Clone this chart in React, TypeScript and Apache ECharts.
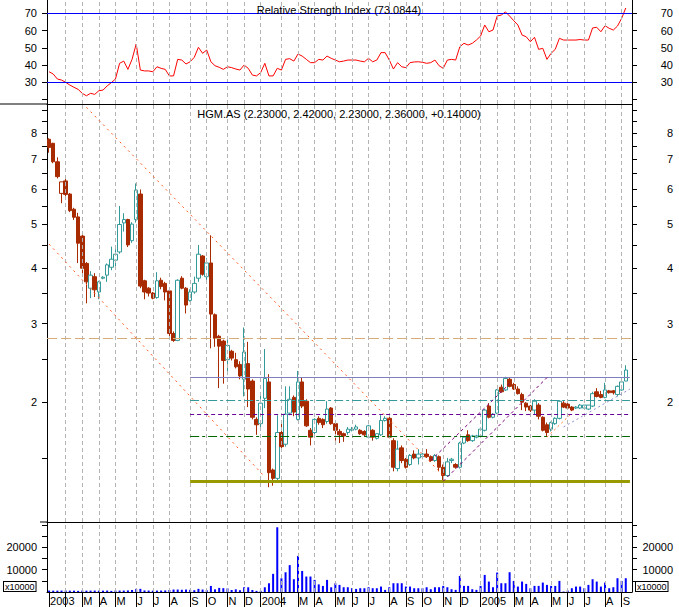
import React, { useEffect, useRef } from 'react';
import * as echarts from 'echarts';

// ---- categories (weekly bars, Friday dates) ----
const START_DATE = Date.UTC(2003, 0, 10);
const weeks: string[] = [];
for (let i = 0; i < 141; i++) {
  weeks.push(new Date(START_DATE + i * 7 * 86400000).toISOString().slice(0, 10));
}

// first bar of each month and its label ('' = tick only)
const monthIdx = [0, 4, 8, 12, 16, 21, 25, 29, 34, 38, 43, 47, 51, 56, 60, 64, 69, 73, 77, 82, 86, 90, 95, 99, 104, 108, 112, 116, 121, 125, 129, 134, 138];
const monthLab = ['2003', '', 'M', 'A', 'M', 'J', 'J', 'A', 'S', 'O', 'N', 'D', '2004', '', 'M', 'A', 'M', 'J', 'J', 'A', 'S', 'O', 'N', 'D', '2005', '', 'M', 'A', 'M', 'J', 'J', 'A', 'S'];

// ---- OHLC ----
const open = [7.76, 7.60, 6.91, 5.87, 6.26, 5.85, 5.41, 5.20, 4.71, 4.09, 3.60, 3.82, 3.53, 3.79, 3.85, 4.01, 4.16, 4.34, 5.04, 5.13, 4.60, 5.13, 5.85, 3.74, 3.60, 3.51, 3.43, 3.75, 3.69, 3.55, 2.85, 2.75, 3.79, 3.60, 3.38, 3.53, 3.79, 4.25, 3.82, 4.10, 3.14, 2.81, 2.74, 2.49, 2.60, 2.49, 2.43, 2.25, 2.44, 2.23, 1.83, 1.79, 2.04, 2.22, 1.41, 1.35, 1.71, 1.61, 1.89, 2.05, 1.83, 2.22, 2.01, 1.73, 1.71, 1.84, 1.83, 1.81, 1.94, 1.79, 1.72, 1.70, 1.71, 1.73, 1.74, 1.73, 1.72, 1.67, 1.73, 1.66, 1.69, 1.82, 1.84, 1.64, 1.42, 1.58, 1.49, 1.45, 1.53, 1.50, 1.51, 1.53, 1.51, 1.48, 1.51, 1.43, 1.37, 1.48, 1.45, 1.43, 1.62, 1.69, 1.64, 1.67, 1.68, 1.73, 1.96, 1.85, 1.89, 2.16, 2.13, 2.25, 2.19, 2.14, 2.08, 1.99, 1.96, 1.92, 1.97, 1.85, 1.78, 1.74, 1.79, 1.84, 1.99, 1.98, 1.95, 1.94, 1.94, 1.94, 1.93, 1.96, 2.11, 2.08, 2.05, 2.12, 2.12, 2.08, 2.13, 2.23];
const high = [7.80, 7.62, 7.07, 6.23, 6.38, 5.88, 5.45, 5.31, 4.75, 4.12, 3.93, 3.89, 3.74, 3.83, 4.09, 4.46, 4.40, 5.50, 5.30, 5.15, 5.06, 6.18, 5.99, 3.76, 3.62, 3.53, 3.91, 3.80, 3.72, 3.57, 2.88, 3.77, 3.83, 3.62, 3.58, 3.82, 4.50, 4.27, 4.20, 4.73, 3.16, 2.83, 2.76, 2.78, 2.62, 2.58, 2.47, 2.94, 2.73, 2.25, 1.85, 2.09, 2.63, 2.31, 1.42, 1.87, 1.79, 2.17, 2.17, 2.07, 2.35, 2.27, 2.03, 1.75, 1.84, 1.86, 1.84, 2.01, 1.95, 1.80, 1.74, 1.71, 1.76, 1.76, 1.78, 1.74, 1.73, 1.78, 1.74, 1.70, 1.87, 1.86, 1.86, 1.66, 1.64, 1.60, 1.50, 1.53, 1.56, 1.57, 1.54, 1.57, 1.52, 1.53, 1.52, 1.45, 1.50, 1.50, 1.46, 1.63, 1.68, 1.73, 1.69, 1.69, 1.75, 1.93, 1.99, 1.89, 2.14, 2.19, 2.28, 2.27, 2.21, 2.17, 2.10, 2.00, 1.97, 2.03, 1.99, 1.86, 1.80, 1.81, 1.85, 2.02, 2.01, 2.00, 1.96, 1.96, 1.98, 1.97, 1.97, 2.11, 2.15, 2.12, 2.21, 2.13, 2.13, 2.18, 2.23, 2.42];
const low = [7.24, 6.86, 6.34, 5.58, 5.79, 5.33, 5.12, 4.10, 3.85, 3.33, 3.42, 3.44, 3.40, 3.77, 3.72, 3.95, 4.03, 4.30, 4.82, 4.45, 4.55, 5.05, 3.60, 3.40, 3.45, 3.40, 3.41, 3.58, 3.38, 2.80, 2.73, 2.74, 3.58, 3.16, 3.36, 3.50, 3.72, 3.84, 3.69, 2.64, 2.66, 2.15, 2.20, 2.30, 2.48, 2.38, 2.25, 2.06, 1.95, 1.83, 1.69, 1.75, 1.94, 1.29, 1.30, 1.33, 1.55, 1.59, 1.87, 1.86, 1.82, 1.94, 1.76, 1.60, 1.69, 1.78, 1.75, 1.79, 1.78, 1.64, 1.62, 1.63, 1.69, 1.72, 1.73, 1.69, 1.68, 1.66, 1.64, 1.65, 1.68, 1.81, 1.66, 1.40, 1.40, 1.46, 1.42, 1.44, 1.49, 1.45, 1.49, 1.50, 1.47, 1.47, 1.40, 1.33, 1.36, 1.46, 1.42, 1.42, 1.61, 1.63, 1.63, 1.66, 1.67, 1.72, 1.84, 1.84, 1.88, 2.10, 2.12, 2.16, 2.13, 2.08, 1.92, 1.91, 1.90, 1.88, 1.83, 1.72, 1.68, 1.72, 1.78, 1.83, 1.94, 1.93, 1.91, 1.93, 1.93, 1.93, 1.92, 1.95, 2.05, 2.04, 2.04, 2.09, 2.08, 2.06, 2.12, 2.23];
const close = [7.44, 6.91, 6.40, 6.23, 5.84, 5.37, 5.19, 4.54, 3.99, 3.72, 3.85, 3.57, 3.72, 3.81, 4.06, 4.18, 4.29, 5.00, 5.13, 4.50, 5.01, 5.97, 3.64, 3.53, 3.51, 3.42, 3.74, 3.63, 3.53, 2.85, 2.75, 3.75, 3.60, 3.30, 3.53, 3.69, 4.29, 3.87, 4.10, 3.15, 2.78, 2.67, 2.48, 2.68, 2.51, 2.40, 2.29, 2.59, 2.14, 1.85, 1.78, 1.99, 2.26, 1.39, 1.35, 1.71, 1.59, 1.88, 2.03, 1.90, 2.22, 1.96, 1.77, 1.67, 1.83, 1.80, 1.78, 1.93, 1.79, 1.73, 1.69, 1.68, 1.74, 1.74, 1.76, 1.70, 1.69, 1.77, 1.67, 1.70, 1.82, 1.84, 1.67, 1.43, 1.57, 1.48, 1.43, 1.52, 1.50, 1.53, 1.53, 1.51, 1.48, 1.52, 1.43, 1.37, 1.47, 1.49, 1.43, 1.62, 1.67, 1.64, 1.68, 1.68, 1.74, 1.92, 1.85, 1.88, 2.13, 2.11, 2.26, 2.17, 2.14, 2.09, 2.00, 1.95, 1.92, 2.01, 1.86, 1.73, 1.71, 1.80, 1.84, 2.01, 1.95, 1.94, 1.92, 1.95, 1.97, 1.97, 1.97, 2.09, 2.06, 2.05, 2.13, 2.10, 2.10, 2.17, 2.22, 2.36];
const hollowDown = [3]; // up week that closed below previous close

// ---- RSI ----
const rsi = [36.1, 34.8, 31.9, 31.3, 30.0, 28.4, 27.1, 25.9, 23.6, 22.2, 23.6, 23.0, 25.1, 25.5, 27.9, 29.8, 31.9, 41.0, 42.3, 37.5, 43.3, 52.2, 37.1, 36.6, 36.6, 36.1, 39.0, 38.1, 37.5, 33.7, 33.7, 43.3, 42.9, 40.6, 41.9, 44.5, 50.3, 46.8, 48.7, 41.9, 39.6, 38.7, 37.5, 39.0, 38.5, 37.7, 37.1, 40.0, 38.1, 34.2, 33.7, 35.6, 41.0, 33.7, 33.7, 38.1, 37.1, 43.3, 43.7, 42.3, 46.4, 45.2, 43.3, 41.4, 41.4, 43.3, 42.9, 45.2, 43.9, 42.9, 41.9, 42.3, 42.9, 42.9, 42.9, 42.3, 41.9, 43.9, 41.9, 42.9, 47.2, 47.2, 42.9, 37.7, 41.4, 39.0, 38.5, 41.4, 41.8, 41.9, 41.6, 41.0, 41.4, 42.9, 39.6, 38.1, 42.9, 43.3, 42.9, 50.6, 52.6, 51.6, 52.6, 54.5, 56.8, 63.2, 59.3, 60.3, 68.4, 69.0, 70.8, 68.4, 65.7, 63.2, 57.4, 56.4, 53.5, 56.1, 49.1, 49.7, 43.3, 46.8, 49.1, 55.5, 54.5, 54.5, 54.5, 54.5, 54.8, 54.5, 54.5, 61.5, 61.9, 59.3, 62.8, 61.3, 60.3, 62.6, 67.1, 73.08];

// ---- Volume (x10000) ----
const volume = [640, 600, 600, 640, 640, 600, 600, 500, 640, 600, 600, 640, 600, 600, 640, 500, 640, 640, 640, 700, 900, 1400, 1400, 700, 640, 600, 640, 640, 700, 900, 1100, 1100, 1000, 1100, 1000, 800, 1400, 1100, 800, 2700, 1200, 1830, 1700, 1600, 900, 1200, 800, 2100, 2100, 900, 500, 500, 2100, 3900, 8100, 28900, 6100, 8800, 12000, 5700, 16100, 9400, 6900, 6900, 5400, 3400, 2700, 5400, 2100, 3900, 3170, 2128, 2128, 1683, 1384, 1683, 1683, 2128, 1683, 1683, 2425, 937, 2128, 3914, 3914, 3914, 2425, 2425, 1683, 1683, 1683, 2128, 1236, 2128, 2128, 2723, 2128, 1236, 937, 7187, 2723, 2723, 1236, 937, 2723, 7633, 4657, 2128, 8675, 3914, 3914, 8824, 4955, 2425, 4657, 3616, 1683, 2723, 2723, 4210, 3170, 2723, 2723, 4955, 192, 640, 1683, 2425, 2425, 1683, 3170, 5700, 4657, 2425, 4210, 1683, 2128, 6146, 4955, 6146];

// ---- reference lines (price levels); from = first bar index, -1 = whole width ----
const levels = [
  { v: 2.78, color: '#D8AC78', type: [10, 4], width: 1, from: -1 },
  { v: 2.27, color: '#7F7FC0', type: 'solid', width: 1, from: 34 },
  { v: 2.02, color: '#339999', type: [9, 3, 3, 3], width: 1, from: 34 },
  { v: 1.878, color: '#660099', type: [4, 3], width: 1, from: 34 },
  { v: 1.68, color: '#006600', type: [9, 3, 3, 3], width: 1, from: 34 },
  { v: 1.333, color: '#999900', type: 'solid', width: 3, from: 34 },
];
// trend lines: [startIdx, startPrice, endIdx, endPrice]
const trends = [
  { p: [9, 9.15, 95, 1.37], color: '#FF5A1E', type: [2, 4] },
  { p: [0, 4.52, 52, 1.36], color: '#FF5A1E', type: [2, 4] },
  { p: [95, 1.33, 120, 2.27], color: '#800080', type: [3, 3] },
  { p: [92, 1.48, 111, 2.20], color: '#800080', type: [3, 3] },
  { p: [120, 1.67, 126, 1.89], color: '#FF7A30', type: [2, 3] },
  { p: [124, 1.76, 140, 2.14], color: '#8C8CD0', type: [2, 3] },
];

const RED = '#A82A00';
const TEAL = '#339999';
const FONT = 'Liberation Sans, Arial, sans-serif';

export default function App() {
  const ref = useRef<HTMLDivElement>(null);
  useEffect(() => {
    if (!ref.current) return;
    const chart = echarts.init(ref.current, undefined, { renderer: 'svg' });
    const isMonth = (i: number) => monthIdx.indexOf(i) >= 0;
    const labelOf = (i: number) => { const k = monthIdx.indexOf(i); return k >= 0 ? monthLab[k] : ''; };
    const vGrid = monthIdx.filter((i) => i > 0).map((i) => ({ xAxis: i }));
    const gridLineStyle = { color: '#b4b4b4', type: [4, 3], width: 1 };

    const candleData = open.map((o, i) => {
      const item: any = { value: [o, close[i], low[i], high[i]] };
      if (hollowDown.indexOf(i) >= 0) item.itemStyle = { color: '#ffffff', borderColor: RED };
      return item;
    });

    const xAxisBase = (g: number) => ({
      type: 'category', gridIndex: g, data: weeks, boundaryGap: true,
      axisLine: { show: true, lineStyle: { color: '#000', width: 1 } },
      axisTick: g === 2 ? { show: true, alignWithLabel: true, length: 15, interval: (i: number) => isMonth(i), lineStyle: { color: '#000' } } : { show: false },
      axisLabel: g === 2 ? {
        show: true, interval: (i: number) => labelOf(i) !== '', formatter: (_v: string, i: number) => labelOf(i),
        align: 'left', margin: 3, fontSize: 11, color: '#000', fontFamily: FONT, padding: [0, 0, 0, 1],
      } : { show: false },
      splitLine: { show: false },
    });

    const yCommon = (g: number, pos: 'left' | 'right') => ({
      gridIndex: g, position: pos,
      axisLine: { show: true, onZero: false, lineStyle: { color: '#000' } },
      splitLine: { show: false },
    });
    const lblStyle = (pos: 'left' | 'right') => ({
      fontSize: 11, color: '#000', fontFamily: FONT,
      align: 'right', margin: pos === 'left' ? 10 : 41,
    });

    const rsiAxis = (pos: 'left' | 'right') => ({
      ...yCommon(0, pos), type: 'value', min: 17.42, max: 77.71,
      axisTick: { show: true, length: 5, customValues: [20, 30, 40, 50, 60, 70], lineStyle: { color: '#000' } },
      axisLabel: { ...lblStyle(pos), customValues: [30, 40, 50, 60, 70], formatter: (v: number) => String(v) },
    });
    const priceAxis = (pos: 'left' | 'right') => ({
      ...yCommon(1, pos), type: 'log', logBase: 10, min: 1.078, max: 9.308,
      axisTick: { show: true, length: 5, customValues: [1.5, 2, 2.5, 3, 3.5, 4, 4.5, 5, 5.5, 6, 6.5, 7, 7.5, 8, 8.5, 9], lineStyle: { color: '#000' } },
      axisLabel: { ...lblStyle(pos), customValues: [2, 3, 4, 5, 6, 7, 8], formatter: (v: number) => String(Math.round(v)) },
    });
    const volAxis = (pos: 'left' | 'right') => ({
      ...yCommon(2, pos), type: 'value', min: 0, max: 31250,
      axisTick: { show: true, length: 5, customValues: [5000, 10000, 15000, 20000, 25000, 30000], lineStyle: { color: '#000' } },
      axisLabel: { ...lblStyle(pos), customValues: [10000, 20000], formatter: (v: number) => String(v) },
    });

    const gridMark = (extra: any[] = []) => ({
      silent: true, symbol: ['none', 'none'], label: { show: false },
      lineStyle: gridLineStyle,
      data: [...vGrid, ...extra],
    });

    const levelMarks = levels.map((l) => {
      const ls = { color: l.color, type: l.type, width: l.width };
      if (l.from < 0) return { yAxis: l.v, lineStyle: ls };
      return [{ coord: [l.from, l.v], lineStyle: ls }, { coord: [140, l.v] }];
    });
    const trendMarks = trends.map((t) => [
      { coord: [t.p[0], t.p[1]], lineStyle: { color: t.color, type: t.type, width: 1 } },
      { coord: [t.p[2], t.p[3]] },
    ]);

    const option: any = {
      animation: false,
      backgroundColor: '#ffffff',
      textStyle: { fontFamily: FONT },
      grid: [
        { left: 47, right: 47, top: 0, height: 104, outerBoundsMode: 'none' },
        { left: 47, right: 47, top: 104, height: 418, outerBoundsMode: 'none' },
        { left: 47, right: 47, top: 522, height: 70, outerBoundsMode: 'none' },
      ],
      xAxis: [xAxisBase(0), xAxisBase(1), xAxisBase(2)],
      yAxis: [rsiAxis('left'), rsiAxis('right'), priceAxis('left'), priceAxis('right'), volAxis('left'), volAxis('right')],
      series: [
        {
          type: 'line', xAxisIndex: 0, yAxisIndex: 0, data: rsi, symbol: 'none',
          lineStyle: { color: '#FF0000', width: 1 }, z: 3,
          markLine: gridMark([
            { yAxis: 30, lineStyle: { color: '#0000FF', type: 'solid', width: 1 } },
            { yAxis: 70, lineStyle: { color: '#0000FF', type: 'solid', width: 1 } },
          ]),
        },
        {
          type: 'line', xAxisIndex: 1, yAxisIndex: 2, data: close.map(() => null), symbol: 'none', z: 1,
          markLine: gridMark(),
        },
        {
          type: 'candlestick', xAxisIndex: 1, yAxisIndex: 2, data: candleData, barWidth: 4, z: 3,
          itemStyle: { color: '#ffffff', color0: RED, borderColor: TEAL, borderColor0: RED, borderColorDoji: TEAL, borderWidth: 1 },
          markLine: {
            silent: true, symbol: ['none', 'none'], label: { show: false },
            data: [...levelMarks, ...trendMarks],
          },
        },
        {
          type: 'bar', xAxisIndex: 2, yAxisIndex: 4, data: volume, barWidth: 2, z: 3,
          itemStyle: { color: '#0000FF' },
          markLine: gridMark(),
        },
      ],
      graphic: [
        { type: 'line', shape: { x1: 0, y1: 104, x2: 47, y2: 104 }, style: { stroke: '#000', lineWidth: 1 } },
        { type: 'line', shape: { x1: 40, y1: 522, x2: 47, y2: 522 }, style: { stroke: '#000', lineWidth: 1 } },
        { type: 'text', x: 339, y: 10, style: { text: 'Relative Strength Index (73.0844)', fontSize: 11, fontFamily: FONT, fill: '#000', textAlign: 'center', textVerticalAlign: 'middle' }, z: 10 },
        { type: 'text', x: 339, y: 114, style: { text: 'HGM.AS (2.23000, 2.42000, 2.23000, 2.36000, +0.14000)', fontSize: 11, fontFamily: FONT, fill: '#000', textAlign: 'center', textVerticalAlign: 'middle' }, z: 10 },
        { type: 'text', left: 3, top: 581, style: { text: 'x10000', fontSize: 9, fontFamily: FONT, fill: '#000', borderColor: '#000', borderWidth: 1, padding: [0, 1, 0, 1], backgroundColor: '#fff' }, z: 10 },
        { type: 'text', left: 635, top: 581, style: { text: 'x10000', fontSize: 9, fontFamily: FONT, fill: '#000', borderColor: '#000', borderWidth: 1, padding: [0, 1, 0, 1], backgroundColor: '#fff' }, z: 10 },
      ],
    };
    chart.setOption(option);
    return () => chart.dispose();
  }, []);
  return <div ref={ref} style={{ position: 'fixed', left: 0, top: 0, width: 679, height: 607, background: '#fff' }} />;
}
